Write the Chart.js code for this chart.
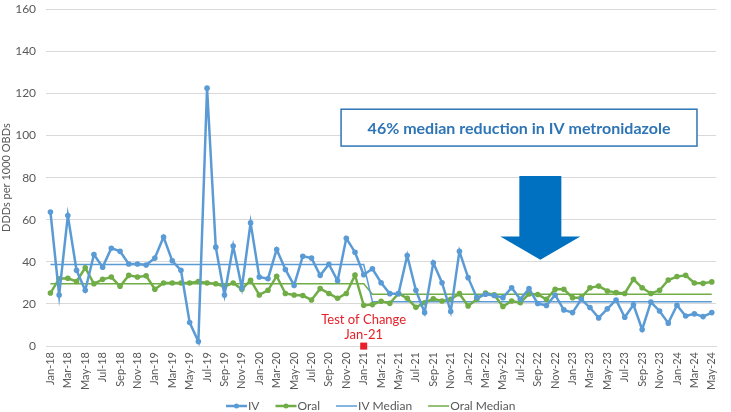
<!DOCTYPE html>
<html lang="en">
<head>
    <meta charset="UTF-8">
    <title>IV vs Oral metronidazole</title>
    <script src="https://cdn.jsdelivr.net/npm/chart.js"></script>
    <style>
        body { margin: 0; background: #fff; }
        #wrap { width: 731px; height: 412px; }
    </style>
</head>
<body>
    <div id="wrap"><canvas id="chart" width="731" height="412"></canvas></div>

    <script>
        // Jan-18 .. May-24, one point per month
        const monthNames = ['Jan','Feb','Mar','Apr','May','Jun','Jul','Aug','Sep','Oct','Nov','Dec'];
        const months = [];
        for (let y = 18; y <= 24; y++) {
            for (let m = 0; m < 12; m++) {
                if (y === 24 && m > 4) break;
                months.push(monthNames[m] + '-' + y);
            }
        }

        const ivValues = [
            63.7, 24.3, 62.0, 36.0, 26.5, 43.5, 37.5, 46.5, 45.0, 39.0, 39.0, 38.5,
            41.8, 51.8, 40.5, 36.0, 11.2, 2.2, 122.5, 47.0, 24.3, 47.5, 27.7, 58.5,
            32.8, 32.0, 45.9, 36.4, 28.8, 42.7, 41.8, 33.6, 38.9, 31.0, 51.2, 44.6,
            33.9, 36.7, 30.1, 24.9, 24.9, 43.0, 26.5, 15.9, 39.6, 30.1, 16.4, 45.0,
            32.5, 23.0, 24.6, 24.0, 23.0, 27.7, 22.2, 27.3, 20.2, 19.3, 24.3, 17.2,
            15.9, 22.2, 18.3, 13.4, 17.7, 21.9, 13.7, 19.6, 7.9, 20.9, 16.7, 10.9,
            19.4, 14.3, 15.3, 14.0, 15.9
        ];
        const oralValues = [
            25.2, 32.0, 32.2, 30.7, 37.2, 29.6, 31.7, 32.8, 28.4, 33.6, 32.8, 33.4,
            27.0, 30.0, 30.0, 30.0, 30.0, 30.7, 30.0, 29.6, 28.2, 30.0, 27.0, 31.3,
            24.3, 26.5, 33.2, 25.0, 24.3, 24.0, 21.9, 27.3, 25.0, 22.7, 25.0, 33.7,
            19.4, 19.7, 21.3, 20.3, 25.0, 22.7, 18.4, 20.6, 22.5, 21.4, 22.2, 24.9,
            19.1, 22.2, 25.2, 24.4, 18.8, 21.4, 20.6, 24.8, 24.5, 22.2, 27.0, 27.0,
            23.0, 23.0, 27.7, 28.5, 26.2, 25.4, 25.0, 31.7, 27.7, 25.0, 26.5, 31.4,
            33.0, 33.6, 30.0, 29.8, 30.5
        ];
        // medians: before and after the test of change
        const ivMedian = [
            { x: 'Jan-18', y: 38.8 }, { x: 'Jan-21', y: 38.8 },
            { x: 'Feb-21', y: 21.1 }, { x: 'May-24', y: 21.1 }
        ];
        const oralMedian = [
            { x: 'Jan-18', y: 29.6 }, { x: 'Jan-21', y: 29.6 },
            { x: 'Feb-21', y: 24.6 }, { x: 'May-24', y: 24.6 }
        ];
        const yTicks = [0, 20, 40, 60, 80, 100, 120, 140, 160];

        const blue = '#5B9BD5';
        const green = '#70AD47';
        const darkBlue = '#0070C0';
        const grey = '#595959';
        const font = 'Lato, "Open Sans", sans-serif';

        // callout box, arrow, test of change marker and the legend
        const annotations = {
            id: 'annotations',
            afterDatasetsDraw(chart) {
                const { ctx, scales: { x, y } } = chart;
                ctx.save();

                // text box
                const bx1 = x.getPixelForValue(33.4), bx2 = x.getPixelForValue(74.3);
                const by1 = y.getPixelForValue(112.5), by2 = y.getPixelForValue(95);
                ctx.fillStyle = '#fff';
                ctx.fillRect(bx1, by1, bx2 - bx1, by2 - by1);
                ctx.strokeStyle = '#2E75B6';
                ctx.lineWidth = 1.5;
                ctx.strokeRect(bx1, by1, bx2 - bx1, by2 - by1);
                ctx.fillStyle = '#2E75B6';
                ctx.font = 'bold 16px ' + font;
                ctx.textAlign = 'center';
                ctx.textBaseline = 'middle';
                ctx.fillText('46% median reduction in IV metronidazole', (bx1 + bx2) / 2, (by1 + by2) / 2 + 1);

                // arrow
                const ax = x.getPixelForValue(56.3);
                const top = y.getPixelForValue(80.8);
                const neck = y.getPixelForValue(52);
                const tip = y.getPixelForValue(41);
                ctx.fillStyle = darkBlue;
                ctx.beginPath();
                ctx.moveTo(ax - 21, top);
                ctx.lineTo(ax + 21, top);
                ctx.lineTo(ax + 21, neck);
                ctx.lineTo(ax + 40, neck);
                ctx.lineTo(ax, tip);
                ctx.lineTo(ax - 40, neck);
                ctx.lineTo(ax - 21, neck);
                ctx.closePath();
                ctx.fill();

                // test of change
                const tx = x.getPixelForValue(36);
                const ty = y.getPixelForValue(0);
                ctx.fillStyle = '#E8202A';
                ctx.fillRect(tx - 3.5, ty - 3.5, 7, 7);
                ctx.font = '13px ' + font;
                ctx.fillText('Test of Change', tx, y.getPixelForValue(12.3));
                ctx.fillText('Jan-21', tx, y.getPixelForValue(5.3));

                // legend along the bottom
                ctx.font = '12px ' + font;
                ctx.textAlign = 'left';
                const ly = chart.height - 6;
                let lx = 226;
                chart.data.datasets.forEach(d => {
                    ctx.strokeStyle = d.borderColor;
                    ctx.lineWidth = d.borderWidth;
                    ctx.beginPath();
                    ctx.moveTo(lx, ly);
                    ctx.lineTo(lx + 21, ly);
                    ctx.stroke();
                    if (d.pointRadius > 0) {
                        ctx.fillStyle = d.borderColor;
                        ctx.beginPath();
                        ctx.arc(lx + 10.5, ly, 2.5, 0, Math.PI * 2);
                        ctx.fill();
                    }
                    ctx.fillStyle = grey;
                    ctx.fillText(d.label, lx + 22, ly);
                    lx += 22 + ctx.measureText(d.label).width + 16;
                });
                ctx.restore();
            }
        };

        new Chart(document.getElementById('chart'), {
            type: 'line',
            data: {
                labels: months,
                datasets: [
                    { label: 'IV', data: ivValues, borderColor: blue, backgroundColor: blue,
                      borderWidth: 2.5, pointRadius: 2.8, pointBackgroundColor: blue, pointBorderWidth: 0, tension: 0 },
                    { label: 'Oral', data: oralValues, borderColor: green, backgroundColor: green,
                      borderWidth: 2.5, pointRadius: 2.8, pointBackgroundColor: green, pointBorderWidth: 0, tension: 0 },
                    { label: 'IV Median', data: ivMedian, borderColor: blue, backgroundColor: blue,
                      borderWidth: 1.5, pointRadius: 0, tension: 0 },
                    { label: 'Oral Median', data: oralMedian, borderColor: green, backgroundColor: green,
                      borderWidth: 1.5, pointRadius: 0, tension: 0 }
                ]
            },
            options: {
                responsive: false,
                animation: false,
                layout: { padding: { left: 0, right: 3, top: 0, bottom: 16 } },
                plugins: {
                    tooltip: { enabled: false },
                    legend: { display: false }
                },
                scales: {
                    x: {
                        offset: true,
                        grid: { display: false, drawTicks: false },
                        border: { display: true, color: '#D9D9D9' },
                        ticks: {
                            autoSkip: false,
                            minRotation: 90,
                            maxRotation: 90,
                            color: grey,
                            font: { family: font, size: 11 },
                            padding: 6,
                            callback(v, i) { return i % 2 === 0 ? months[i] : ''; }
                        }
                    },
                    y: {
                        min: 0,
                        max: 160,
                        afterBuildTicks(axis) { axis.ticks = yTicks.map(v => ({ value: v })); },
                        grid: { color: '#D9D9D9', drawTicks: true, tickLength: 8, tickColor: 'rgba(0,0,0,0)' },
                        border: { display: false },
                        ticks: {
                            color: grey,
                            padding: 2,
                            font: { family: font, size: 12 }
                        },
                        title: {
                            display: true,
                            text: 'DDDs per 1000 OBDs',
                            color: grey,
                            padding: 0,
                            font: { family: font, size: 11 }
                        }
                    }
                }
            },
            plugins: [annotations]
        });
    </script>
</body>
</html>
